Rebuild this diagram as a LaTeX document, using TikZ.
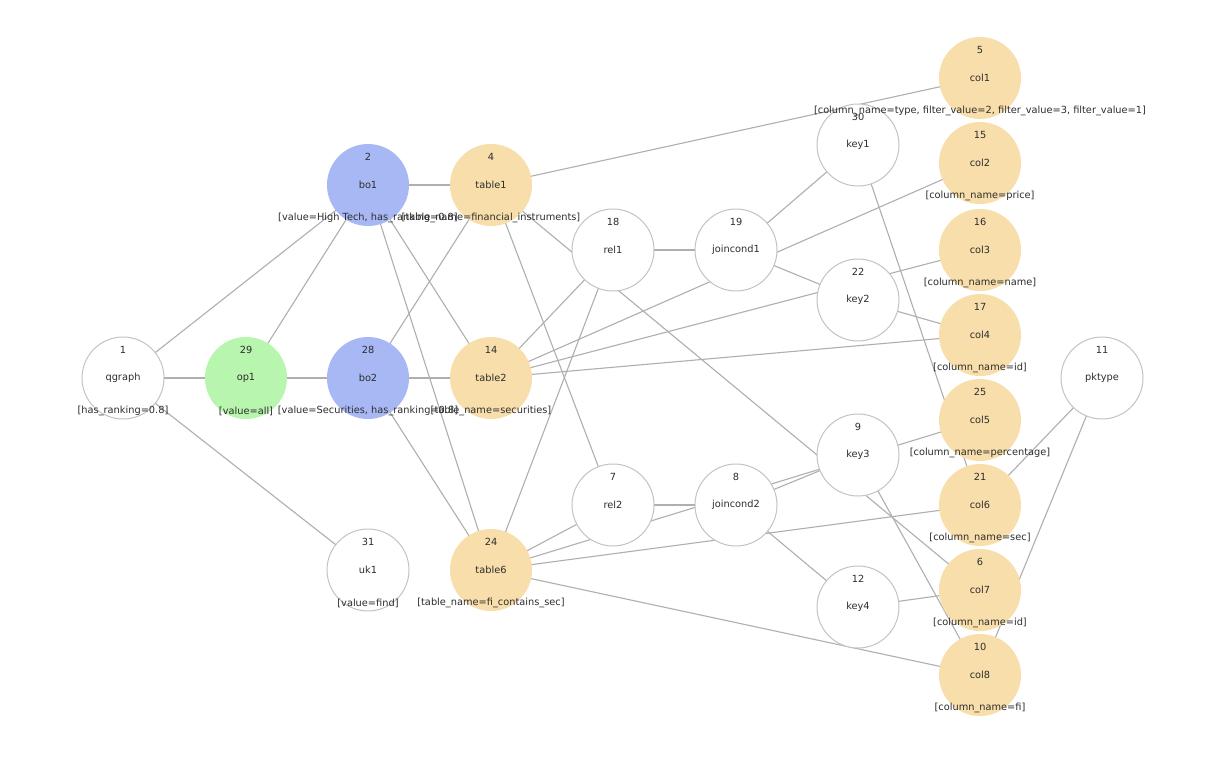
\documentclass[tikz,border=0pt]{standalone}
\usepackage{fontspec}
\setmainfont{DejaVu Sans}
\usetikzlibrary{calc}
\pgfdeclarelayer{bg}
\pgfdeclarelayer{fg}
\pgfsetlayers{bg,main,fg}
\definecolor{boblue}{RGB}{168,184,245}
\definecolor{opgreen}{RGB}{184,245,174}
\definecolor{taborange}{RGB}{248,222,170}
\definecolor{edgegray}{RGB}{175,175,175}
\definecolor{bordergray}{RGB}{195,195,195}
\definecolor{txtcol}{RGB}{45,45,45}
\newcommand\gnode[7]{%
  \node[#4] (#1) at (#2,#3) {#6};
  \begin{pgfonlayer}{fg}
    \node[numtxt] (#1-num) at ($(#1)+(0,-28)$) {#5};
    \node[labtxt] (#1-lab) at ($(#1)+(0,33)$) {#7};
  \end{pgfonlayer}
}
\begin{document}
\begin{tikzpicture}[x=1pt,y=-1pt,
  base/.style={circle,minimum size=82pt,inner sep=0pt,font=\fontsize{9.8}{11}\selectfont,text=txtcol},
  wnode/.style={base,draw=bordergray,line width=1pt,fill=white},
  bnode/.style={base,fill=boblue},
  gnode/.style={base,fill=opgreen},
  onode/.style={base,fill=taborange},
  numtxt/.style={inner sep=0pt,font=\fontsize{9.8}{11}\selectfont,text=txtcol},
  labtxt/.style={inner sep=0pt,font=\fontsize{9.8}{11}\selectfont,text=txtcol},
  edge/.style={draw=edgegray,line width=1.1pt}]
\begin{pgfonlayer}{bg}
\fill[white] (0,0) rectangle (1226,766);
\end{pgfonlayer}
\useasboundingbox (0,0) rectangle (1226,766);

\gnode{n1}{123}{378}{wnode}{1}{qgraph}{[has\_ranking=0.8]}
\gnode{n29}{246}{378}{gnode}{29}{op1}{[value=all]}
\gnode{n28}{368}{378}{bnode}{28}{bo2}{[value=Securities, has\_ranking=0.8]}
\gnode{n14}{491}{378}{onode}{14}{table2}{[table\_name=securities]}
\gnode{n2}{368}{185}{bnode}{2}{bo1}{[value=High Tech, has\_ranking=0.8]}
\gnode{n4}{491}{185}{onode}{4}{table1}{[table\_name=financial\_instruments]}
\gnode{n31}{368}{570}{wnode}{31}{uk1}{[value=find]}
\gnode{n24}{491}{570}{onode}{24}{table6}{[table\_name=fi\_contains\_sec]}
\gnode{n18}{613}{250}{wnode}{18}{rel1}{}
\gnode{n7}{613}{505}{wnode}{7}{rel2}{}
\gnode{n19}{736}{250}{wnode}{19}{joincond1}{}
\gnode{n8}{736}{505}{wnode}{8}{joincond2}{}
\gnode{n30}{858}{145}{wnode}{30}{key1}{}
\gnode{n22}{858}{300}{wnode}{22}{key2}{}
\gnode{n9}{858}{455}{wnode}{9}{key3}{}
\gnode{n12}{858}{607}{wnode}{12}{key4}{}
\gnode{n5}{980}{78}{onode}{5}{col1}{[column\_name=type, filter\_value=2, filter\_value=3, filter\_value=1]}
\gnode{n15}{980}{163}{onode}{15}{col2}{[column\_name=price]}
\gnode{n16}{980}{250}{onode}{16}{col3}{[column\_name=name]}
\gnode{n17}{980}{335}{onode}{17}{col4}{[column\_name=id]}
\gnode{n25}{980}{420}{onode}{25}{col5}{[column\_name=percentage]}
\gnode{n21}{980}{505}{onode}{21}{col6}{[column\_name=sec]}
\gnode{n6}{980}{590}{onode}{6}{col7}{[column\_name=id]}
\gnode{n10}{980}{675}{onode}{10}{col8}{[column\_name=fi]}
\gnode{n11}{1102}{378}{wnode}{11}{pktype}{}

\begin{pgfonlayer}{bg}
\foreach \a/\b in {n1/n29,n1/n2,n1/n31,n29/n28,n29/n2,
  n2/n4,n2/n14,n2/n24,n28/n14,n28/n4,n28/n24,
  n4/n5,n4/n6,n4/n7,
  n14/n18,n14/n15,n14/n16,n14/n17,
  n24/n18,n24/n7,n24/n25,n24/n21,n24/n10,
  n18/n19,n7/n8,n19/n30,n19/n22,n8/n9,n8/n12,
  n30/n21,n22/n17,n9/n10,n12/n6,n11/n21,n11/n10}
  \draw[edge] (\a.center) -- (\b.center);
\end{pgfonlayer}
\end{tikzpicture}
\end{document}
